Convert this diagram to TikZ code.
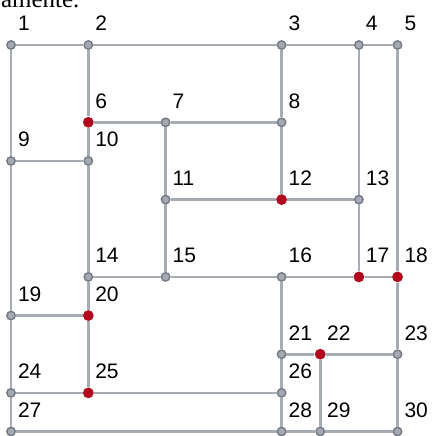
\documentclass[tikz,border=0pt]{standalone}
\usepackage{fontspec}
\setmainfont{Liberation Sans}
\newfontfamily\serifpart{Liberation Serif}
\usetikzlibrary{positioning}
\definecolor{edgegrey}{HTML}{A7ABB3}
\definecolor{dotgrey}{HTML}{A4A9B2}
\definecolor{rimgrey}{HTML}{737984}
\definecolor{dotred}{HTML}{B10A1E}
\tikzset{
  vtx/.style={circle, fill=dotgrey, draw=rimgrey, line width=0.7pt, minimum size=4.2pt, inner sep=0pt},
  hot/.style={circle, fill=dotred, draw=none, minimum size=5.4pt, inner sep=0pt},
  lbl/.style={inner sep=0pt, outer sep=0pt, font=\fontsize{10.5}{12}\selectfont},
  link/.style={draw=edgegrey, line width=1.3pt}
}
\begin{document}
\begin{tikzpicture}[x=19.33pt, y=19.33pt]
		\useasboundingbox (-0.285,-0.116) rectangle (10.918,11.164);
		% cut-off line of text above the grid
		\node[anchor=base east, inner sep=0pt, font=\serifpart\fontsize{12.5}{14}\selectfont] (caption) at (1.78,10.98) {amente.};
		% plain vertices
		\foreach \n/\x/\y in {1/0/10, 2/2/10, 3/7/10, 4/9/10, 5/10/10,
		                      7/4/8, 8/7/8, 9/0/7, 10/2/7, 11/4/6, 13/9/6,
		                      14/2/4, 15/4/4, 16/7/4, 19/0/3, 21/7/2, 23/10/2,
		                      24/0/1, 26/7/1, 27/0/0, 28/7/0, 29/8/0, 30/10/0}
			\node[vtx] (v\n) at (\x,\y) {};
		% marked vertices
		\foreach \n/\x/\y in {6/2/8, 12/7/6, 17/9/4, 18/10/4, 20/2/3, 22/8/2, 25/2/1}
			\node[hot] (v\n) at (\x,\y) {};
		% numbers
		\foreach \n in {1,...,30}
			\node[lbl, above right=7pt and 3.5pt of v\n.center] (l\n) {\n};
		% edges
		\path[link] (v1) -- (v2) -- (v3) -- (v4) -- (v5);
		\path[link] (v1) -- (v9) -- (v19) -- (v24) -- (v27);
		\path[link] (v2) -- (v6) -- (v10) -- (v14) -- (v20) -- (v25);
		\path[link] (v6) -- (v7) -- (v8);
		\path[link] (v9) -- (v10);
		\path[link] (v7) -- (v11) -- (v15);
		\path[link] (v11) -- (v12) -- (v13);
		\path[link] (v3) -- (v8) -- (v12);
		\path[link] (v4) -- (v13) -- (v17);
		\path[link] (v5) -- (v18) -- (v23) -- (v30);
		\path[link] (v14) -- (v15) -- (v16) -- (v17) -- (v18);
		\path[link] (v19) -- (v20);
		\path[link] (v16) -- (v21) -- (v26) -- (v28);
		\path[link] (v21) -- (v22) -- (v23);
		\path[link] (v22) -- (v29);
		\path[link] (v24) -- (v25) -- (v26);
		\path[link] (v27) -- (v28) -- (v29) -- (v30);
\end{tikzpicture}
\end{document}
